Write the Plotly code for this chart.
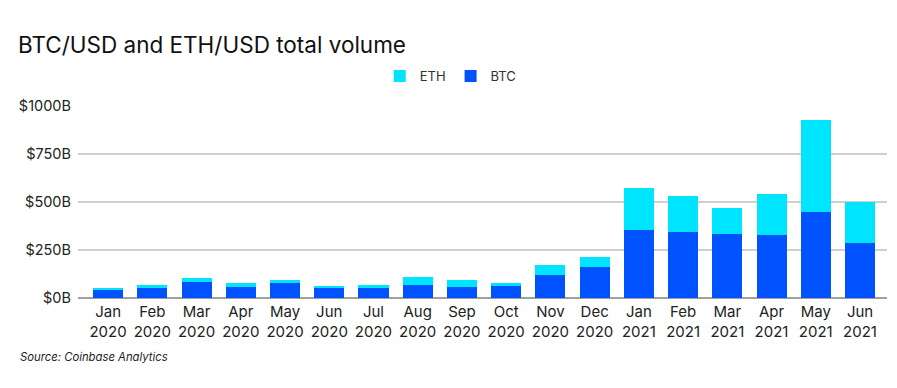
import plotly.graph_objects as go

months = ["Jan<br>2020", "Feb<br>2020", "Mar<br>2020", "Apr<br>2020", "May<br>2020", "Jun<br>2020",
          "Jul<br>2020", "Aug<br>2020", "Sep<br>2020", "Oct<br>2020", "Nov<br>2020", "Dec<br>2020",
          "Jan<br>2021", "Feb<br>2021", "Mar<br>2021", "Apr<br>2021", "May<br>2021", "Jun<br>2021"]
btc = [43, 51, 82, 58, 77, 51, 51, 70, 56, 61, 119, 159, 356, 344, 335, 330, 447, 285]
total = [51, 70, 103, 77, 94, 64, 70, 108, 94, 80, 172, 214, 574, 530, 471, 542, 928, 499]
eth = [t - b for t, b in zip(total, btc)]
y_ticks = [0, 250, 500, 750, 1000]
y_labels = ["$0B", "$250B", "$500B", "$750B", "$1000B"]

BTC_COLOR = "#0052FF"
ETH_COLOR = "#00E5FF"
FONT = "Inter"

fig = go.Figure()
fig.add_trace(go.Bar(x=list(range(len(months))), y=btc, name="BTC", marker_color=BTC_COLOR,
                     marker_line_width=0))
fig.add_trace(go.Bar(x=list(range(len(months))), y=eth, name="ETH", marker_color=ETH_COLOR,
                     marker_line_width=0))

# the page adds an 8px body margin, so the figure is sized to fit inside the window
fig.update_layout(
    width=889, height=380,
    barmode="stack", bargap=0.32,
    paper_bgcolor="white", plot_bgcolor="white",
    margin=dict(l=70, r=10, t=98, b=90, autoexpand=False),
    font=dict(family=FONT, color="#222222"),
    title=dict(text="BTC/USD and ETH/USD total volume", x=0.0112, xanchor="left",
               y=0.903, yanchor="middle", yref="container", pad=dict(l=0, t=0, b=0, r=0),
               font=dict(size=22.5, color="#111111", family=FONT)),
    legend=dict(orientation="h", traceorder="reversed", xref="container", x=0.498,
                xanchor="center", yref="container", y=0.821, yanchor="middle",
                font=dict(size=13, color="#333333"),
                itemwidth=30, itemsizing="constant"),
    showlegend=True,
)
fig.update_xaxes(
    tickmode="array", tickvals=list(range(len(months))), ticktext=months,
    range=[-0.68, 17.61], showgrid=False, zeroline=False, showline=False,
    tickfont=dict(size=15, color="#222222"), ticks="", automargin=False,
    ticklabelstandoff=3,
)
fig.update_yaxes(
    range=[0, 1000], tickvals=y_ticks, ticktext=y_labels,
    showgrid=True, gridcolor="#cfcfcf", gridwidth=1.5,
    zeroline=True, zerolinecolor="#a0a0a0", zerolinewidth=1.5,
    ticks="", tickfont=dict(size=14.5, color="#222222"), ticklabelstandoff=6,
    automargin=False,
)
fig.add_annotation(text="<i>Source: Coinbase Analytics</i>", xref="paper", yref="paper",
                   x=-0.074, y=-0.307, xanchor="left", yanchor="middle", showarrow=False,
                   font=dict(size=11.3, color="#222222", family=FONT))

fig.write_html("out.html")
